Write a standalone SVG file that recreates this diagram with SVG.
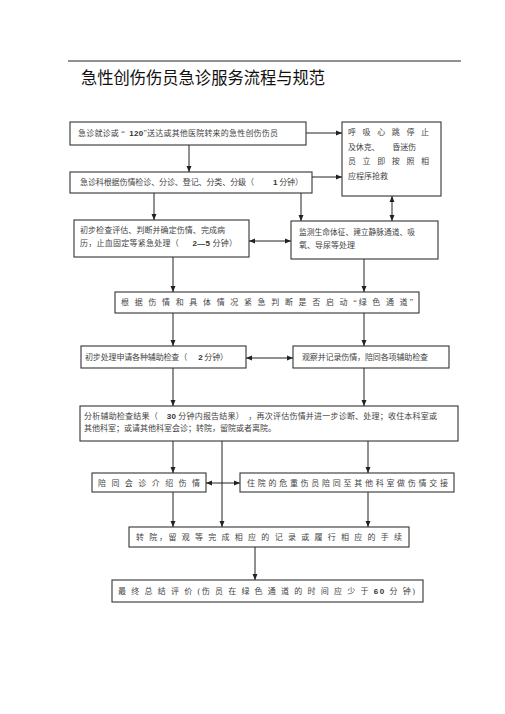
<svg xmlns="http://www.w3.org/2000/svg" width="505" height="714" viewBox="0 0 505 714">
<style>
.bg{fill:#ffffff}
.box{fill:#ffffff;stroke:#333333;stroke-width:1.1}
.t{font-family:"Liberation Serif","Noto Sans CJK SC",serif;font-size:8px;fill:#444444}
.n{font-family:"Liberation Sans","Noto Sans CJK SC",sans-serif;font-weight:bold;fill:#333333}
.title{font-family:"Liberation Sans","Noto Sans CJK SC",sans-serif;font-size:17px;fill:#111111}
.c{fill:none;stroke:#222222;stroke-width:1}
.a{marker-end:url(#ah)}
.d{marker-start:url(#ah);marker-end:url(#ah)}
</style>
<defs>
<marker id="ah" markerUnits="userSpaceOnUse" markerWidth="6" markerHeight="6" refX="6" refY="3" orient="auto-start-reverse" viewBox="0 0 6 6">
<path d="M0,0.5 L6,3 L0,5.5 z" fill="#222222"/>
</marker>
</defs>
<rect class="bg" x="0" y="0" width="505" height="714"/>
<line x1="68" y1="61" x2="461" y2="61" stroke="#222222" stroke-width="1"/>
<text class="title" x="81" y="84" textLength="244" lengthAdjust="spacingAndGlyphs">急性创伤伤员急诊服务流程与规范</text>

<g id="connectors">
<line class="c a" x1="189" y1="145" x2="189" y2="172"/>
<line class="c a" x1="306" y1="133" x2="342" y2="133"/>
<line class="c a" x1="312" y1="177" x2="342" y2="177"/>
<line class="c a" x1="154" y1="193" x2="154" y2="220"/>
<line class="c a" x1="301" y1="193" x2="301" y2="221"/>
<line class="c d" x1="392" y1="196" x2="392" y2="221"/>
<line class="c d" x1="249" y1="241" x2="291" y2="241"/>
<line class="c a" x1="173" y1="257" x2="173" y2="292"/>
<line class="c a" x1="364" y1="259" x2="364" y2="292"/>
<line class="c a" x1="173" y1="313" x2="173" y2="346"/>
<line class="c a" x1="364" y1="313" x2="364" y2="346"/>
<line class="c d" x1="246" y1="358" x2="293" y2="358"/>
<line class="c a" x1="173" y1="368" x2="173" y2="406"/>
<line class="c a" x1="364" y1="368" x2="364" y2="406"/>
<line class="c a" x1="173" y1="441" x2="173" y2="473"/>
<line class="c a" x1="368" y1="441" x2="368" y2="473"/>
<line class="c a" x1="222" y1="441" x2="222" y2="527"/>
<line class="c d" x1="206" y1="483" x2="240" y2="483"/>
<line class="c a" x1="173" y1="492" x2="173" y2="527"/>
<line class="c a" x1="368" y1="492" x2="368" y2="527"/>
<line class="c a" x1="255" y1="547" x2="255" y2="580"/>
</g>

<g id="n1">
<rect class="box" x="70" y="122" width="236" height="23"/>
<text class="t" xml:space="preserve" x="78" y="136" textLength="200" lengthAdjust="spacing">急诊就诊或 “  <tspan class="n">120</tspan>”送达或其他医院转来的急性创伤伤员</text>
</g>
<g id="n2">
<rect class="box" x="70" y="172" width="242" height="21"/>
<text class="t" xml:space="preserve" x="80" y="185" textLength="223" lengthAdjust="spacing">急诊科根据伤情检诊、分诊、登记、分类、分级（          <tspan class="n">1</tspan> 分钟）</text>
</g>
<g id="n3">
<rect class="box" x="342" y="122" width="99" height="74"/>
<text class="t" x="348" y="135" textLength="81" lengthAdjust="spacing">呼 吸 心 跳 停 止</text>
<text class="t" xml:space="preserve" x="348" y="150" textLength="68" lengthAdjust="spacing">及休克、       昏迷伤</text>
<text class="t" x="348" y="164" textLength="81" lengthAdjust="spacing">员 立 即 按 照 相</text>
<text class="t" x="348" y="179">应程序抢救</text>
</g>
<g id="n4">
<rect class="box" x="74" y="220" width="175" height="37"/>
<text class="t" x="80" y="233" textLength="145" lengthAdjust="spacing">初步检查评估、判断并确定伤情、完成病</text>
<text class="t" xml:space="preserve" x="80" y="246" textLength="157" lengthAdjust="spacing">历，止血固定等紧急处理（      <tspan class="n">2—5</tspan> 分钟）</text>
</g>
<g id="n5">
<rect class="box" x="291" y="221" width="147" height="38"/>
<text class="t" x="299" y="235" textLength="116" lengthAdjust="spacingAndGlyphs">监测生命体征、建立静脉通道、吸</text>
<text class="t" x="299" y="248">氧、导尿等处理</text>
</g>
<g id="n6">
<rect class="box" x="115" y="292" width="304" height="21"/>
<text class="t" x="121" y="305" textLength="292" lengthAdjust="spacing">根 据 伤 情 和 具 体 情 况 紧 急 判 断 是 否 启 动 “绿 色 通 道”</text>
</g>
<g id="n7">
<rect class="box" x="81" y="346" width="165" height="22"/>
<text class="t" xml:space="preserve" x="85" y="360" textLength="143" lengthAdjust="spacing">初步处理申请各种辅助检查（      <tspan class="n">2</tspan> 分钟）</text>
</g>
<g id="n8">
<rect class="box" x="293" y="346" width="156" height="22"/>
<text class="t" x="302" y="360" textLength="126" lengthAdjust="spacing">观察并记录伤情，陪同各项辅助检查</text>
</g>
<g id="n9">
<rect class="box" x="80" y="406" width="378" height="35"/>
<text class="t" xml:space="preserve" x="84" y="419" textLength="353" lengthAdjust="spacing">分析辅助检查结果（    <tspan class="n">30</tspan> 分钟内报告结果）  ，再次评估伤情并进一步诊断、处理；收住本科室或</text>
<text class="t" x="84" y="431">其他科室；或请其他科室会诊；转院，留院或者离院。</text>
</g>
<g id="n10">
<rect class="box" x="92" y="473" width="114" height="19"/>
<text class="t" x="98" y="486" textLength="102" lengthAdjust="spacing">陪 同 会 诊 介 绍 伤 情</text>
</g>
<g id="n11">
<rect class="box" x="240" y="473" width="214" height="19"/>
<text class="t" x="247" y="486" textLength="201" lengthAdjust="spacing">住 院 的 危 重 伤 员 陪 同 至 其 他 科 室 做 伤 情 交 接</text>
</g>
<g id="n12">
<rect class="box" x="129" y="527" width="280" height="20"/>
<text class="t" x="136" y="540" textLength="266" lengthAdjust="spacing">转 院，留 观 等 完 成 相 应 的 记 录 或 履 行 相 应 的 手 续</text>
</g>
<g id="n13">
<rect class="box" x="112" y="580" width="311" height="22"/>
<text class="t" x="118" y="594" textLength="297" lengthAdjust="spacing">最 终 总 结 评 价 (伤 员 在 绿 色 通 道 的 时 间 应 少 于 <tspan class="n">60</tspan> 分 钟)</text>
</g>
</svg>
